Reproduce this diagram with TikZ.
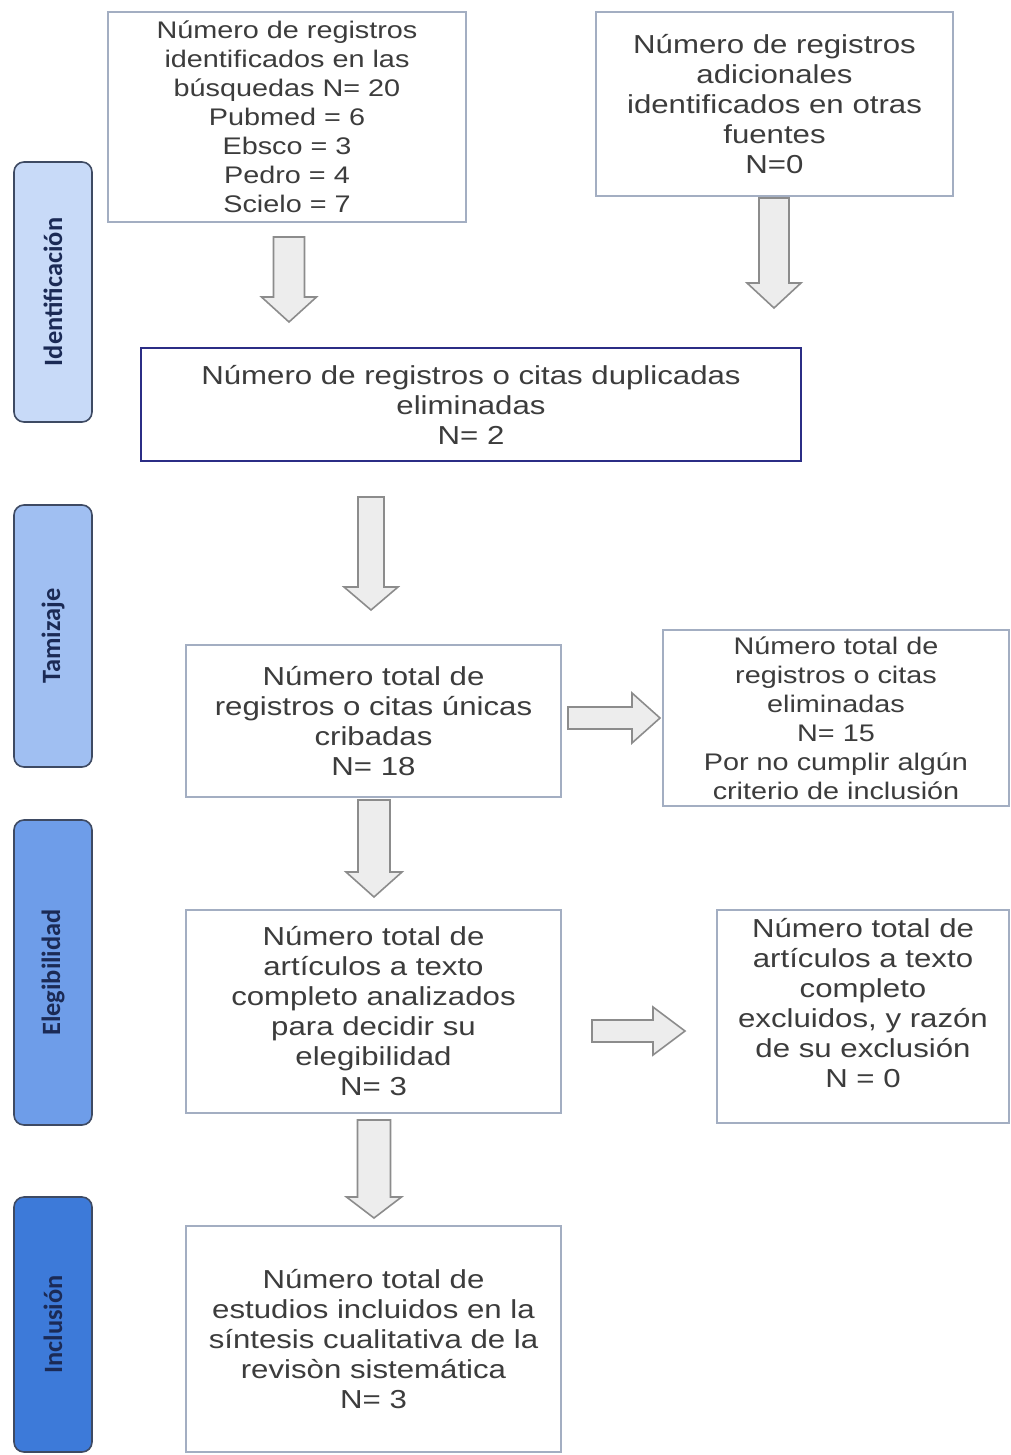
\documentclass[tikz,border=0pt]{standalone}
\usepackage{fontspec}
\setmainfont[FakeStretch=1.2]{Liberation Sans}
\newfontfamily\labelfont{Carlito}
\definecolor{boxline}{HTML}{A3AEC2}
\definecolor{navyline}{HTML}{2B2D85}
\definecolor{txt}{HTML}{3C3C3C}
\definecolor{lblline}{HTML}{3E4A63}
\definecolor{lbltxt}{HTML}{1B2A55}
\definecolor{fillA}{HTML}{C8DAF8}
\definecolor{fillB}{HTML}{A0BFF2}
\definecolor{fillC}{HTML}{6E9DE9}
\definecolor{fillD}{HTML}{3D7AD9}
\definecolor{arrfill}{HTML}{EDEDED}
\definecolor{arrline}{HTML}{8C8C8C}
\newcommand\vblock[6]{% cx, top, headstart, tip, shafthalf, headhalf
  \draw[blockarrow] ({#1-#5},#2) -- ({#1+#5},#2) -- ({#1+#5},#3) -- ({#1+#6},#3) -- (#1,#4) -- ({#1-#6},#3) -- ({#1-#5},#3) -- cycle;}
\newcommand\hblock[6]{% cy, left, headstart, tip, shafthalf, headhalf
  \draw[blockarrow] (#2,{#1-#5}) -- (#2,{#1+#5}) -- (#3,{#1+#5}) -- (#3,{#1+#6}) -- (#4,#1) -- (#3,{#1-#6}) -- (#3,{#1-#5}) -- cycle;}
\tikzset{
  flowbox/.style={draw=boxline, line width=0.8pt, fill=white, align=center, text=txt, inner sep=2pt,
    font=\fontsize{13}{15}\selectfont},
  smallbox/.style={flowbox, font=\fontsize{12}{14.5}\selectfont},
  navybox/.style={flowbox, draw=navyline, line width=1.1pt},
  phase/.style={draw=lblline, line width=0.8pt, rounded corners=5pt, rotate=90, minimum height=39pt,
    text=lbltxt, font=\labelfont\bfseries\fontsize{13.2}{15}\selectfont, inner sep=0pt},
  blockarrow/.style={draw=arrline, fill=arrfill, line width=0.8pt, line join=miter}
}
\begin{document}
\begin{tikzpicture}[x=0.5pt, y=-0.5pt]
\useasboundingbox (0,0) rectangle (1011,1455);
\fill[white] (0,0) rectangle (1011,1455);

% phase labels
\node[phase, fill=fillA, minimum width=130pt] (pid) at (53,292) {Identificación};
\node[phase, fill=fillB, minimum width=131pt] (ptam) at (53,636) {Tamizaje};
\node[phase, fill=fillC, minimum width=152.5pt] (pele) at (53,972.5) {Elegibilidad};
\node[phase, fill=fillD, minimum width=127.5pt] (pinc) at (53,1324.5) {Inclusión};

% boxes
\node[smallbox, minimum width=179pt, minimum height=105pt] (A) at (287,117)
  {Número de registros\\identificados en las\\búsquedas N= 20\\Pubmed = 6\\Ebsco = 3\\Pedro = 4\\Scielo = 7};
\node[flowbox, minimum width=178.5pt, minimum height=92pt] (B) at (774.5,104)
  {Número de registros\\adicionales\\identificados en otras\\fuentes\\N=0};
\node[navybox, minimum width=330pt, minimum height=56.5pt] (C) at (471,404.5)
  {Número de registros o citas duplicadas\\eliminadas\\N= 2};
\node[flowbox, minimum width=187.5pt, minimum height=76pt] (D) at (373.5,721)
  {Número total de\\registros o citas únicas\\cribadas\\N= 18};
\node[smallbox, minimum width=173pt, minimum height=88pt] (E) at (836,718)
  {Número total de\\registros o citas\\eliminadas\\N= 15\\Por no cumplir algún\\criterio de inclusión};
\node[flowbox, minimum width=187.5pt, minimum height=101.5pt] (F) at (373.5,1011.5)
  {Número total de\\artículos a texto\\completo analizados\\para decidir su\\elegibilidad\\N= 3};
\node[flowbox, minimum width=146pt, minimum height=106.5pt] (G) at (863,1016.5) {};
\node[align=center, text=txt, font=\fontsize{13}{15}\selectfont] (Gt) at (863,1003)
  {Número total de\\artículos a texto\\completo\\excluidos, y razón\\de su exclusión\\N = 0};
\node[flowbox, minimum width=187.5pt, minimum height=113pt] (H) at (373.5,1339)
  {Número total de\\estudios incluidos en la\\síntesis cualitativa de la\\revisòn sistemática\\N= 3};

% block arrows
\vblock{289}{237}{297}{322}{15.5}{27.5}
\vblock{774}{198}{283}{308}{15}{27}
\vblock{371}{497}{587}{610}{13}{27}
\vblock{374}{800}{872}{897}{16}{28}
\vblock{374}{1120}{1197}{1218}{16.5}{27.5}
\hblock{718}{568}{632}{660}{11}{25}
\hblock{1031}{592}{653}{685}{11}{24}
\end{tikzpicture}
\end{document}
